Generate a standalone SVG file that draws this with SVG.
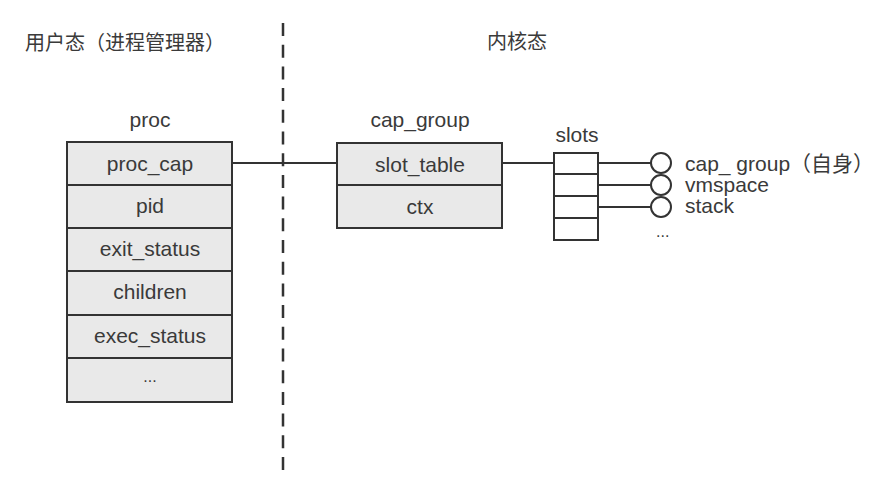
<svg xmlns="http://www.w3.org/2000/svg" width="887" height="480" viewBox="0 0 887 480">
<style>
text{font-family:"Liberation Sans","Noto Sans CJK SC",sans-serif;fill:#3a3a3a;font-size:21px}
.c{text-anchor:middle}
.t{font-size:20px}
.cell{fill:#e9e9e9;stroke:#333;stroke-width:2}
.slot{fill:#fff;stroke:#333;stroke-width:2}
.ln{stroke:#333;stroke-width:2;fill:none}
.circ{fill:#fff;stroke:#333;stroke-width:2}
</style>
<rect width="887" height="480" fill="#fff"/>
<text class="t" x="25" y="50">用户态（进程管理器）</text>
<text class="t" x="487" y="49">内核态</text>
<line x1="283" y1="23" x2="283" y2="472" stroke="#333" stroke-width="2.5" stroke-dasharray="13 8.7"/>
<g id="proc">
<text class="c" x="150" y="127">proc</text>
<rect class="cell" x="67" y="142" width="165" height="43"/>
<rect class="cell" x="67" y="185" width="165" height="43"/>
<rect class="cell" x="67" y="228" width="165" height="43"/>
<rect class="cell" x="67" y="271" width="165" height="44"/>
<rect class="cell" x="67" y="315" width="165" height="43"/>
<rect class="cell" x="67" y="358" width="165" height="44"/>
<text class="c" x="150" y="171">proc_cap</text>
<text class="c" x="150" y="213">pid</text>
<text class="c" x="150" y="256">exit_status</text>
<text class="c" x="150" y="299">children</text>
<text class="c" x="150" y="343">exec_status</text>
<text class="c" x="150" y="382" style="font-size:16px">...</text>
</g>
<g id="cap_group">
<text class="c" x="420" y="127">cap_group</text>
<rect class="cell" x="337" y="143" width="165" height="42"/>
<rect class="cell" x="337" y="185" width="165" height="43"/>
<text class="c" x="420" y="172">slot_table</text>
<text class="c" x="420" y="214">ctx</text>
</g>
<g id="slots">
<text class="c" x="577" y="142">slots</text>
<rect class="slot" x="554" y="153" width="44" height="21"/>
<rect class="slot" x="554" y="174" width="44" height="22"/>
<rect class="slot" x="554" y="196" width="44" height="22"/>
<rect class="slot" x="554" y="218" width="44" height="22"/>
</g>
<g id="connectors">
<line class="ln" x1="232" y1="163" x2="337" y2="163"/>
<line class="ln" x1="502" y1="163" x2="554" y2="163"/>
<line class="ln" x1="598" y1="163" x2="651" y2="163"/>
<line class="ln" x1="598" y1="185" x2="651" y2="185"/>
<line class="ln" x1="598" y1="207" x2="651" y2="207"/>
</g>
<g id="objects">
<circle class="circ" cx="661" cy="163" r="10"/>
<circle class="circ" cx="661" cy="185" r="10"/>
<circle class="circ" cx="661" cy="207" r="10"/>
<text x="685" y="171">cap_ group（自身）</text>
<text x="685" y="192">vmspace</text>
<text x="685" y="213">stack</text>
<text x="656" y="237" style="font-size:16px">...</text>
</g>
</svg>
